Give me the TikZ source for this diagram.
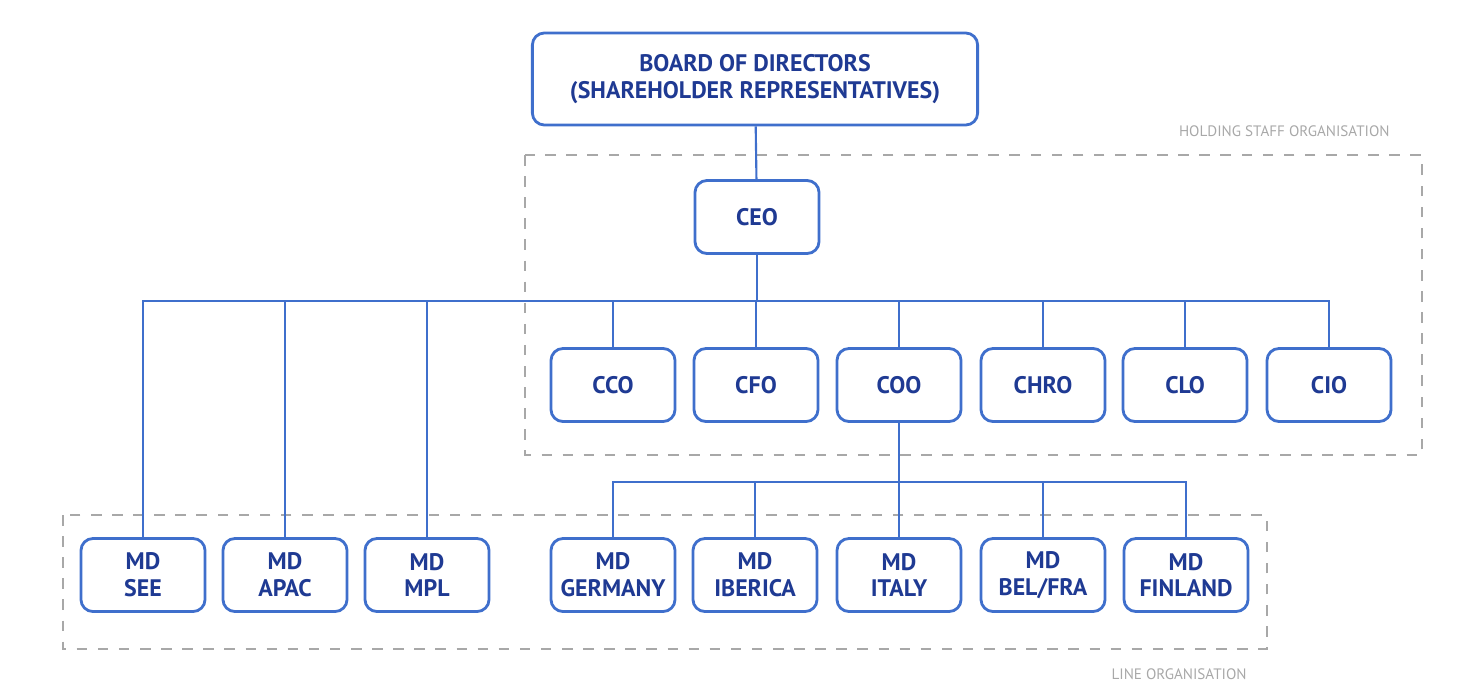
\documentclass[tikz,border=0pt]{standalone}
\usepackage{fontspec}
\setmainfont{PT Sans}
\usetikzlibrary{positioning}
\definecolor{boxtext}{HTML}{1F3A93}
\definecolor{boxline}{HTML}{3F6FCC}
\definecolor{dashgrey}{HTML}{A8A8A8}

\begin{document}
\begin{tikzpicture}[x=0.01cm,y=-0.01cm,
    box/.style={draw=boxline,line width=0.8pt,rounded corners=0.12cm,fill=white,
      minimum width=1.24cm,minimum height=0.73cm,align=center,inner sep=1pt,
      text=boxtext,font=\fontsize{6.8}{7.6}\selectfont\bfseries},
    wire/.style={draw=boxline,line width=0.6pt},
    area/.style={draw=dashgrey,dashed,line width=0.7pt},
    areatext/.style={text=dashgrey,font=\fontsize{4.3}{5}\selectfont,anchor=east}]
        \useasboundingbox (0,0) rectangle (1474,694);

        % dashed areas
        \draw[area] (525,155) rectangle (1422,455);
        \node[areatext] (hold) at (1402,131) {HOLDING STAFF ORGANISATION};
        \draw[area] (63,515) rectangle (1267,649);
        \node[areatext] (line) at (1259,674) {LINE ORGANISATION};

        \node[box,minimum width=4.45cm,minimum height=0.92cm] (board) at (755,79)
        {BOARD OF DIRECTORS\\(SHAREHOLDER REPRESENTATIVES)};
        \node[box] (ceo) at (757,217) {CEO};

        \node[box] (cco) at (613,385) {CCO};
        \node[box] (cfo) at (756,385) {CFO};
        \node[box] (coo) at (899,385) {COO};
        \node[box] (chro) at (1043,385) {CHRO};
        \node[box] (clo) at (1185,385) {CLO};
        \node[box] (cio) at (1329,385) {CIO};

        \node[box] (see) at (143,575) {MD\\SEE};
        \node[box] (apac) at (285,575) {MD\\APAC};
        \node[box] (mpl) at (427,575) {MD\\MPL};
        \node[box] (ger) at (613,575) {MD\\GERMANY};
        \node[box] (ibe) at (755,575) {MD\\IBERICA};
        \node[box] (ita) at (899,575) {MD\\ITALY};
        \node[box] (bel) at (1043,575) {MD\\BEL/FRA};
        \node[box] (fin) at (1186,575) {MD\\FINLAND};

        % connectors
        \draw[wire] (board) -- (ceo);
        \foreach \n in {see,apac,mpl,cco,cfo,coo,chro,clo,cio}
          \draw[wire] (ceo.south) |- ++(0,46) -| (\n.north);
        \foreach \n in {ger,ibe,ita,bel,fin}
          \draw[wire] (coo.south) |- ++(0,59) -| (\n.north);
\end{tikzpicture}
\end{document}
